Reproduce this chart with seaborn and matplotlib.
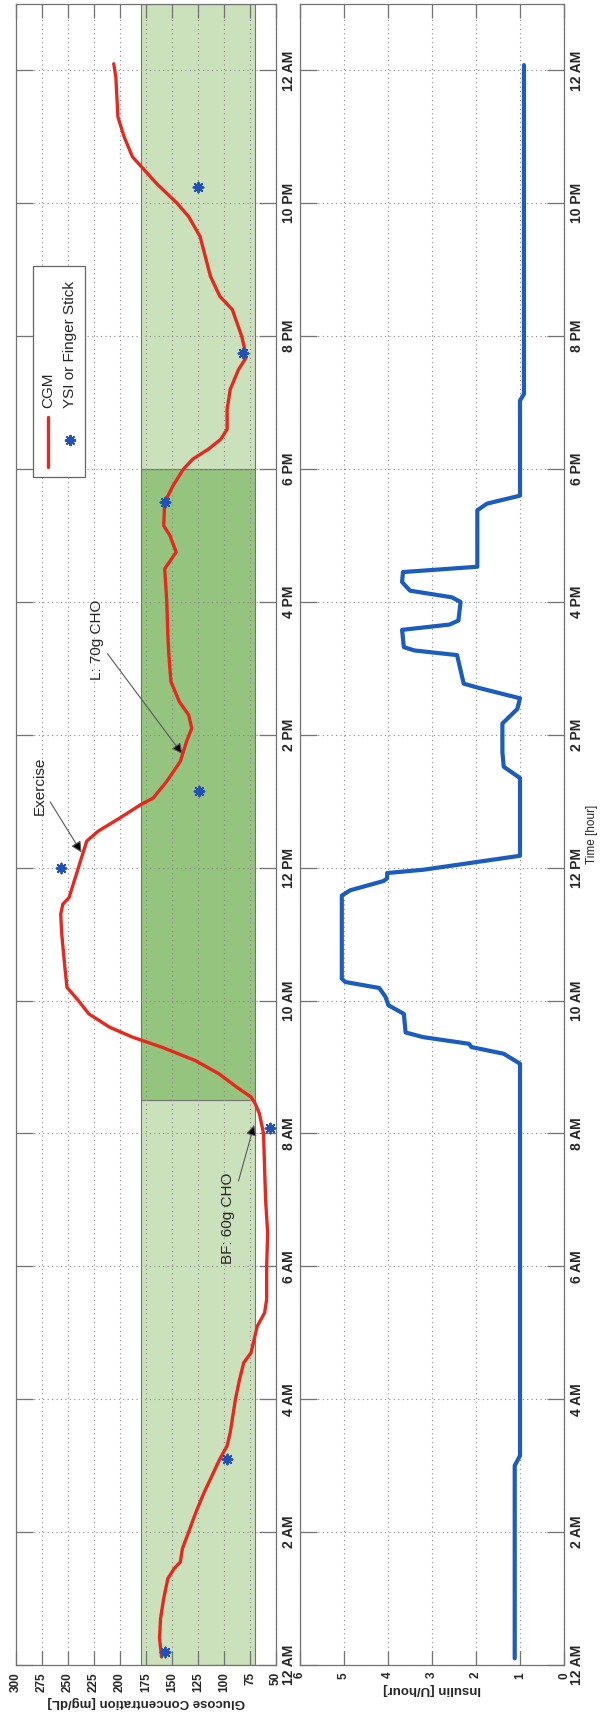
import matplotlib
matplotlib.use("Agg")
import matplotlib.pyplot as plt
from matplotlib.patches import Rectangle
from matplotlib.lines import Line2D
import pandas as pd
import seaborn as sns

# ---- data -------------------------------------------------------------
# CGM trace: hours after midnight and glucose in mg/dL
cgm_hour = [0.12, 0.4, 0.7, 1.0, 1.3, 1.45, 1.55, 1.75, 2.0, 2.3, 2.6, 2.9, 3.1, 3.3, 3.5,
            3.8, 4.0, 4.3, 4.55, 4.7, 4.9, 5.1, 5.3, 5.5, 6.0, 6.5, 7.0, 7.5, 8.0, 8.3,
            8.45, 8.55, 8.7, 8.9, 9.1, 9.3, 9.45, 9.6, 9.8, 10.0, 10.2, 10.5, 11.0, 11.3,
            11.45, 11.55, 11.8, 12.0, 12.25, 12.4, 12.55, 12.75, 12.95, 13.05, 13.3, 13.6,
            13.9, 14.1, 14.3, 14.5, 14.8, 15.2, 15.5, 16.0, 16.5, 16.75, 17.0, 17.15, 17.5,
            17.75, 18.0, 18.15, 18.3, 18.45, 18.6, 18.9, 19.2, 19.5, 19.67, 19.8, 20.0,
            20.4, 20.6, 20.9, 21.2, 21.5, 21.8, 22.0, 22.3, 22.7, 23.0, 23.3, 23.6, 23.9, 24.1]
cgm_glucose = [160, 162, 161, 158, 154, 148, 142, 140, 134, 127, 119, 110, 104, 97, 94,
               91, 89, 85, 81, 74, 71, 68, 61, 59, 59, 58, 60, 61, 62, 66,
               70, 74, 88, 105, 128, 160, 188, 210, 230, 240, 251, 253, 256, 257,
               255, 249, 244, 240, 235, 232, 221, 200, 180, 168, 155, 142,
               136, 131, 134, 143, 151, 153, 154, 155, 157, 146, 152, 158, 157,
               149, 139, 130, 115, 103, 97, 97, 94, 86, 79, 80, 83,
               92, 104, 113, 118, 123, 134, 145, 165, 188, 196, 202, 203, 204, 206]

# YSI / finger-stick reference samples
ref_hour = [0.2, 3.1, 8.09, 12.0, 13.16, 17.5, 19.74, 22.25]
ref_glucose = [157, 97, 56, 257, 124, 157, 82, 125]

# Insulin delivery rate (U/hour)
insulin_hour = [0.1, 3.0, 3.15, 9.05, 9.2, 9.3, 9.35, 9.45, 9.52, 9.8, 9.93, 10.06, 10.19,
                10.28, 10.33, 11.58, 11.66, 11.8, 11.84, 11.92, 11.97, 12.18, 13.35, 13.52,
                13.74, 14.17, 14.39, 14.55, 14.7, 14.77, 14.97, 15.2, 15.27, 15.32, 15.58,
                15.66, 15.72, 16.0, 16.07, 16.17, 16.3, 16.45, 16.53, 17.38, 17.48, 17.6,
                19.03, 19.13, 24.08]
insulin_rate = [1.12, 1.12, 1.0, 1.0, 1.37, 2.1, 2.16, 3.2, 3.6, 3.64, 3.99, 4.06, 4.2,
                4.97, 5.05, 5.05, 4.86, 4.1, 4.02, 4.02, 3.19, 1.0, 1.0, 1.37,
                1.4, 1.4, 1.06, 1.0, 1.9, 2.28, 2.35, 2.43, 3.4, 3.64, 3.68,
                2.6, 2.4, 2.35, 2.55, 3.5, 3.68, 3.66, 1.97, 1.97, 1.75, 1.0,
                1.0, 0.91, 0.91]

time_ticks = list(range(0, 25, 2))
time_labels = ["12 AM", "2 AM", "4 AM", "6 AM", "8 AM", "10 AM", "12 PM",
               "2 PM", "4 PM", "6 PM", "8 PM", "10 PM", "12 AM"]
glucose_ticks = list(range(50, 301, 25))
insulin_ticks = list(range(0, 7))

target_range = (70, 180)
meal_window = (8.5, 18.0)

# annotations: text, text position (glucose, hour), arrow tip (glucose, hour)
notes = [("BF: 60g CHO", (96, 6.73), (71, 8.13)),
         ("Exercise", (277, 13.24), (237, 12.23)),
         ("L: 70g CHO", (222, 15.43), (140, 13.71))]

# ---- style ------------------------------------------------------------
sns.set_theme(style="white")
plt.rcParams["font.family"] = ["Liberation Sans", "DejaVu Sans"]

RED = "#e8281e"
BLUE_LINE = "#1a5cc0"
BLUE_MARK = "#2050b8"
LIGHT_GREEN = "#cbe1bb"
DARK_GREEN = "#95c47e"
FRAME = "0.45"

W, H = 606, 1726
fig = plt.figure(figsize=(W / 100, H / 100), dpi=100)


def panel(x0, x1, y0, y1):
    return fig.add_axes([x0 / W, 1 - y1 / H, (x1 - x0) / W, (y1 - y0) / H])


ax_g = panel(16, 276, 4, 1665)
ax_i = panel(300, 564, 4, 1665)

# target band, darker over the monitored meal window
spans = [(0, meal_window[0], LIGHT_GREEN), (meal_window[0], meal_window[1], DARK_GREEN),
         (meal_window[1], 25, LIGHT_GREEN)]
for t0, t1, c in spans:
    ax_g.add_patch(Rectangle((target_range[0], t0), target_range[1] - target_range[0], t1 - t0,
                             facecolor=c, edgecolor=FRAME, lw=0.8, zorder=0.5))

cgm = pd.DataFrame({"hour": cgm_hour, "glucose": cgm_glucose})
ref = pd.DataFrame({"hour": ref_hour, "glucose": ref_glucose})
ins = pd.DataFrame({"hour": insulin_hour, "rate": insulin_rate})

sns.lineplot(data=cgm, x="glucose", y="hour", orient="y", sort=False, estimator=None,
             color=RED, lw=2.4, ax=ax_g, zorder=3)
sns.scatterplot(data=ref, x="glucose", y="hour", marker=(8, 2, 0), s=50, color=BLUE_MARK,
                linewidth=1.4, ax=ax_g, zorder=4)
sns.lineplot(data=ins, x="rate", y="hour", orient="y", sort=False, estimator=None,
             color=BLUE_LINE, lw=3.0, ax=ax_i, zorder=3)

for text, pos, tip in notes:
    ax_g.annotate(text, xy=tip, xytext=pos, rotation=90, ha="center", va="center",
                  fontsize=11, zorder=6,
                  arrowprops=dict(arrowstyle="-|>", mutation_scale=16, lw=0.8,
                                  fc="black", ec="0.35", shrinkA=0, shrinkB=0))

# legend box, drawn upright in the rotated layout
lg = ax_g.transAxes
ax_g.add_patch(Rectangle((0.065, 0.7155), 0.2, 0.1265, transform=lg, facecolor="white",
                         edgecolor="0.4", lw=0.9, zorder=5))
ax_g.add_line(Line2D([0.123, 0.123], [0.7212, 0.7513], transform=lg, color=RED, lw=2.4,
                     zorder=6))
ax_g.add_line(Line2D([0.2077], [0.7375], transform=lg, marker=(8, 2, 0), ms=8, mew=1.4,
                     color=BLUE_MARK, ls="none", zorder=6))
ax_g.text(0.123, 0.7568, "CGM", transform=lg, rotation=90, ha="center", va="bottom",
          fontsize=11, zorder=6)
ax_g.text(0.2077, 0.7568, "YSI or Finger Stick", transform=lg, rotation=90, ha="center",
          va="bottom", fontsize=11, zorder=6)

# ---- axes -------------------------------------------------------------
ax_g.set_xlim(300, 50)
ax_g.set_xticks(glucose_ticks)
ax_g.set_xticklabels([str(v) for v in glucose_ticks])
ax_i.set_xlim(6, 0)
ax_i.set_xticks(insulin_ticks)
ax_i.set_xticklabels([str(v) for v in insulin_ticks])

for ax in (ax_g, ax_i):
    ax.set_ylim(0, 25)
    ax.set_yticks(time_ticks)
    ax.yaxis.tick_right()
    ax.set_yticklabels(time_labels, rotation=90, va="center", fontsize=10, fontweight="bold")
    for lab in ax.get_xticklabels():
        lab.set_rotation(90)
        lab.set_fontsize(8.5)
        lab.set_fontweight("bold")
    ax.tick_params(axis="y", direction="in", length=12, width=0.9, color=FRAME,
                   left=True, right=True, labelleft=False, labelright=True, pad=4)
    ax.tick_params(axis="x", direction="in", length=10, width=0.9, color=FRAME,
                   top=True, bottom=True, pad=5)
    ax.grid(True, linestyle=(0, (1, 3)), color="0.55", lw=0.8)
    ax.set_axisbelow(False)
    for s in ax.spines.values():
        s.set_color(FRAME)
        s.set_linewidth(0.9)
        s.set_zorder(7)
    ax.set_xlabel("")
    ax.set_ylabel("")

ax_g.set_xlabel("Glucose Concentration [mg/dL]", rotation=180, fontsize=9.5,
                fontweight="bold", labelpad=3)
ax_i.set_xlabel("Insulin [U/hour]", rotation=180, fontsize=9.5, fontweight="bold",
                labelpad=3)
ax_i.yaxis.set_label_position("right")
ax_i.set_ylabel("Time [hour]", rotation=90, fontsize=8.5, labelpad=2)

fig.savefig("out.png", dpi=100)
